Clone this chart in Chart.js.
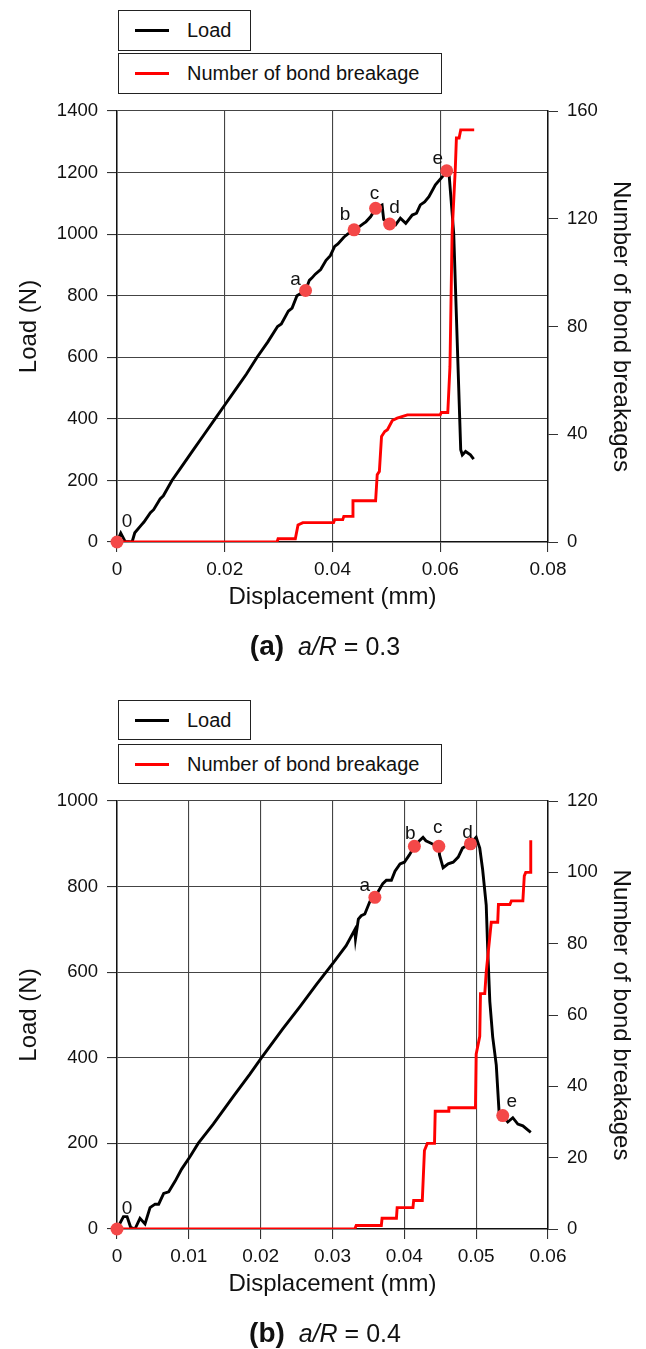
<!DOCTYPE html>
<html>
<head>
<meta charset="utf-8">
<script src="https://cdn.jsdelivr.net/npm/chart.js@4.4.0/dist/chart.umd.min.js"></script>
<style>
  body { margin: 0; background: #fff; width: 646px; height: 1349px; position: relative; overflow: hidden;
         font-family: "Liberation Sans", Arial, sans-serif; color: #111; }
  canvas { position: absolute; left: 0; }
  .legbox { position: absolute; left: 118px; height: 41px; box-sizing: border-box; border: 1.5px solid #222;
            background: #fff; font-size: 20px; display: flex; align-items: center; }
  .legbox i { display: inline-block; width: 34px; height: 3px; margin: 0 18px 0 16px; }
  .caption { position: absolute; left: 0; width: 650px; text-align: center; font-size: 25px; line-height: 30px; }
  .caption b { font-size: 28px; }
</style>
</head>
<body>

<div class="legbox" style="top:10px;width:133px"><i style="background:#000"></i>Load</div>
<div class="legbox" style="top:53px;width:324px"><i style="background:#f00"></i>Number of bond breakage</div>
<canvas id="chartA" width="646" height="670" style="top:0"></canvas>
<div class="caption" style="top:631px"><b>(a)</b>&nbsp;&nbsp;<i>a/R</i> = 0.3</div>

<div class="legbox" style="top:700px;width:133px;height:40px"><i style="background:#000"></i>Load</div>
<div class="legbox" style="top:744px;width:324px;height:40px"><i style="background:#f00"></i>Number of bond breakage</div>
<canvas id="chartB" width="646" height="669" style="top:680px"></canvas>
<div class="caption" style="top:1318px"><b>(b)</b>&nbsp;&nbsp;<i>a/R</i> = 0.4</div>

<script>
// ---- panel (a): a/R = 0.3 ----
const dispA = [0, 0.0007, 0.0015, 0.0028, 0.0033, 0.0045, 0.005, 0.0062, 0.0068, 0.008, 0.0086, 0.0102,
  0.012, 0.014, 0.0162, 0.0182, 0.02, 0.022, 0.024, 0.026, 0.028, 0.0298, 0.0305, 0.0318, 0.0325, 0.0334,
  0.035, 0.0357, 0.0362, 0.0368, 0.0378, 0.0388, 0.0396, 0.0404, 0.041, 0.0421, 0.0428, 0.044, 0.0448,
  0.0458, 0.0462, 0.0471, 0.048, 0.0492, 0.0495, 0.0506, 0.0517, 0.0526, 0.0536, 0.0548, 0.0556, 0.0563,
  0.0571, 0.0579, 0.0591, 0.0604, 0.0612, 0.0616, 0.0625, 0.0638, 0.0641, 0.0647, 0.0656, 0.0662];
const loadA = [0, 29, 2, 0, 30, 55, 65, 95, 105, 140, 150, 200,
  245, 295, 350, 400, 445, 495, 545, 600, 650, 700, 708, 750, 760, 800,
  817, 850, 858, 870, 885, 915, 930, 960, 968, 990, 1000, 1014, 1022,
  1035, 1040, 1057, 1084, 1095, 1048, 1033, 1030, 1052, 1035, 1062, 1068, 1095,
  1105, 1122, 1160, 1187, 1206, 1203, 1003, 300, 283, 294, 283, 269];
const bondDispA = [0, 0.0297, 0.0299, 0.0331, 0.0336, 0.0345, 0.0402, 0.0404, 0.0419, 0.0421, 0.0437, 0.0438,
  0.048, 0.0483, 0.0487, 0.0491, 0.0497, 0.0502, 0.0511, 0.052, 0.0539, 0.06, 0.0602, 0.0614, 0.0618, 0.0622,
  0.0628, 0.063, 0.0635, 0.0638, 0.0663];
const bondsA = [0, 0, 1.2, 1.2, 6.3, 7.2, 7.2, 8.3, 8.3, 9.5, 9.5, 15.3,
  15.3, 25, 26.2, 39.2, 41, 41.7, 45.1, 46, 47.2, 47.2, 48.1, 48.1, 65, 114.6,
  139, 150, 150, 153, 153];
const markDispA = [0, 0.035, 0.044, 0.048, 0.0506, 0.0612];
const markLoadA = [0, 817, 1014, 1084, 1033, 1206];

// ---- panel (b): a/R = 0.4 ----
const dispB = [0, 0.0009, 0.0014, 0.0019, 0.0025, 0.0032, 0.0039, 0.0046, 0.0053, 0.0058, 0.0065, 0.0072,
  0.0081, 0.009, 0.0102, 0.0113, 0.0134, 0.0162, 0.0185, 0.0201, 0.0231, 0.0255, 0.0278, 0.0291, 0.0301,
  0.0319, 0.0331, 0.0332, 0.0336, 0.034, 0.0345, 0.0352, 0.0359, 0.037, 0.0375, 0.0382, 0.0387, 0.0394, 0.04,
  0.0407, 0.0414, 0.0421, 0.0426, 0.043, 0.0435, 0.044, 0.0448, 0.0449, 0.0454, 0.0461, 0.0468, 0.0475, 0.0481,
  0.0492, 0.05, 0.0505, 0.0509, 0.0514, 0.0516, 0.0519, 0.0523, 0.0528, 0.0532, 0.0537, 0.0544, 0.0551, 0.0558,
  0.0565, 0.0576];
const loadB = [0, 29, 29, 4, 0, 25, 12, 50, 58, 58, 83, 87,
  112, 140, 170, 200, 245, 310, 362, 400, 468, 520, 572, 600, 622,
  662, 699, 678, 724, 732, 736, 765, 775, 807, 815, 815, 836, 853, 857,
  874, 894, 907, 915, 907, 903, 899, 894, 874, 844, 853, 857, 869, 890,
  900, 915, 890, 840, 757, 657, 532, 449, 383, 270, 265, 250, 260, 245,
  241, 226];
const bondDispB = [0, 0.0331, 0.0333, 0.0368, 0.0369, 0.0389, 0.039, 0.0412, 0.0413, 0.0425, 0.0428, 0.0432,
  0.0442, 0.0443, 0.0461, 0.0462, 0.0499, 0.05, 0.0505, 0.0506, 0.0512, 0.0514, 0.0521, 0.053, 0.0531, 0.0547,
  0.0549, 0.0565, 0.0567, 0.0569, 0.0575, 0.0576];
const bondsB = [0, 0, 1, 1, 3, 3, 6, 6, 8, 8, 22, 24,
  24, 33, 33, 34, 34, 49, 54, 66, 66, 72, 86, 86, 91, 91,
  92, 92, 99, 100, 100, 109];
const markDispB = [0, 0.0359, 0.0414, 0.0448, 0.0492, 0.0537];
const markLoadB = [0, 775, 894, 894, 900, 265];

const markNames = ['0', 'a', 'b', 'c', 'd', 'e'];

const FONT = '"Liberation Sans", Arial, sans-serif';

function pairs(xs, ys) {
  return xs.map((x, i) => ({ x: x, y: ys[i] }));
}

// writes the letters next to the red markers
const pointTags = {
  id: 'pointTags',
  afterDatasetsDraw(chart, args, opts) {
    const meta = chart.getDatasetMeta(opts.dataset);
    const ctx = chart.ctx;
    ctx.save();
    ctx.font = '19px ' + FONT;
    ctx.fillStyle = '#111';
    ctx.textAlign = 'center';
    ctx.textBaseline = 'middle';
    meta.data.forEach((pt, i) => {
      const off = opts.offsets[i];
      ctx.fillText(opts.labels[i], pt.x + off[0], pt.y + off[1]);
    });
    ctx.restore();
  }
};

function makeChart(id, cfg) {
  const grid = { color: '#444', lineWidth: 1.1, tickLength: 10, tickColor: '#333' };
  const border = { display: true, color: '#111', width: 1.5 };
  const yTickFont = { family: FONT, size: 18.5 };
  const xTickFont = { family: FONT, size: 19 };
  const titleFont = { family: FONT, size: 24 };

  return new Chart(document.getElementById(id), {
    type: 'line',
    data: {
      datasets: [
        {
          label: 'Load', data: pairs(cfg.disp, cfg.load), yAxisID: 'y',
          borderColor: '#000', borderWidth: 2.9, pointRadius: 0, order: 2
        },
        {
          label: 'Number of bond breakage', data: pairs(cfg.bondDisp, cfg.bonds), yAxisID: 'y2',
          borderColor: '#ff0000', borderWidth: 2.9, pointRadius: 0, order: 1
        },
        {
          label: 'marks', data: pairs(cfg.markDisp, cfg.markLoad), yAxisID: 'y',
          showLine: false, pointRadius: 6.5, pointBackgroundColor: '#f44848',
          pointBorderWidth: 0, order: 0, clip: false
        }
      ]
    },
    options: {
      responsive: false,
      animation: false,
      layout: { padding: { top: cfg.top, left: 0, right: 0, bottom: cfg.bottom } },
      plugins: {
        legend: { display: false },
        tooltip: { enabled: false },
        pointTags: { dataset: 2, labels: markNames, offsets: cfg.offsets }
      },
      scales: {
        x: {
          type: 'linear', min: 0, max: cfg.xMax,
          ticks: { stepSize: cfg.xStep, color: '#111', font: xTickFont, padding: 6,
                   callback: v => String(+v.toFixed(4)) },
          grid: grid, border: border,
          title: { display: true, text: 'Displacement (mm)', color: '#111', font: titleFont,
                   padding: { top: 0, bottom: 2 } },
          afterFit: s => { s.height = 72; }
        },
        y: {
          position: 'left', min: 0, max: cfg.yMax,
          ticks: { stepSize: 200, color: '#111', font: yTickFont, padding: 9, callback: v => String(v) },
          grid: grid, border: border,
          title: { display: true, text: 'Load (N)', color: '#111', font: titleFont, padding: { top: 15, bottom: 0 } },
          afterFit: s => { s.width = 117; }
        },
        y2: {
          position: 'right', min: 0, max: cfg.y2Max,
          ticks: { stepSize: cfg.y2Step, color: '#111', font: yTickFont, padding: 9, callback: v => String(v) },
          grid: { drawOnChartArea: false, tickLength: 10, tickColor: '#333', lineWidth: 1 },
          border: border,
          title: { display: true, text: 'Number of bond breakages', color: '#111', font: titleFont,
                   padding: { top: 11, bottom: 0 } },
          afterFit: s => { s.width = 98; }
        }
      }
    },
    plugins: [pointTags]
  });
}

makeChart('chartA', {
  disp: dispA, load: loadA, bondDisp: bondDispA, bonds: bondsA,
  markDisp: markDispA, markLoad: markLoadA,
  xMax: 0.08, xStep: 0.02, yMax: 1400, y2Max: 160, y2Step: 40,
  top: 111, bottom: 56,
  offsets: [[10, -20], [-10, -11], [-9, -15], [-1, -15], [5, -16], [-9, -12]]
});

makeChart('chartB', {
  disp: dispB, load: loadB, bondDisp: bondDispB, bonds: bondsB,
  markDisp: markDispB, markLoad: markLoadB,
  xMax: 0.06, xStep: 0.01, yMax: 1000, y2Max: 120, y2Step: 20,
  top: 121, bottom: 48,
  offsets: [[10, -20], [-10, -12], [-4, -13], [-1, -19], [-3, -11], [9, -14]]
});
</script>
</body>
</html>
